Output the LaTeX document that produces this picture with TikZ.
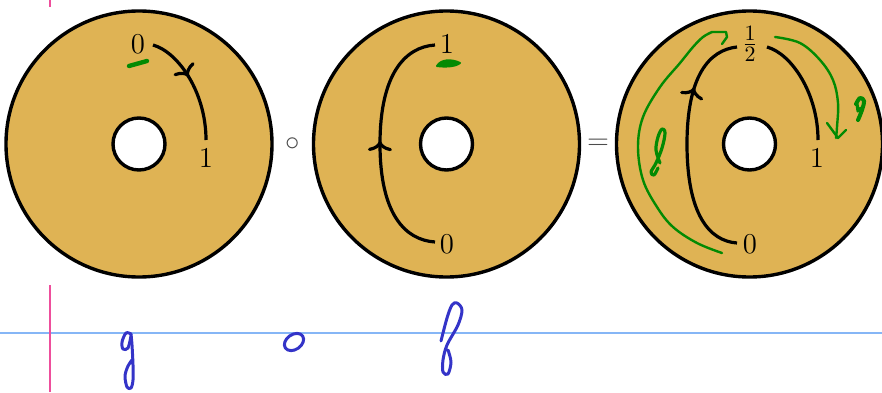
\documentclass[tikz,border=0pt]{standalone}
\usetikzlibrary{decorations.markings,arrows.meta}
\definecolor{gold}{HTML}{DFB354}
\definecolor{inkgreen}{HTML}{038A03}
\definecolor{penblue}{HTML}{3434C8}
\definecolor{ruleblue}{HTML}{86B6F6}
\definecolor{rulepink}{HTML}{EE4E9C}
\begin{document}
\begin{tikzpicture}[x=0.5pt,y=0.5pt,
  ringline/.style={draw=black, line width=1.7pt},
  curvearc/.style={draw=black, line width=1.6pt},
  lbl/.style={font=\fontsize{15}{18}\selectfont, inner sep=0pt},
  opsym/.style={font=\fontsize{15}{18}\selectfont, inner sep=0pt, text=black!70},
  midarrow/.style={postaction={decorate}, decoration={markings, mark=at position #1 with {\arrow{Computer Modern Rightarrow[length=5pt,width=12pt]}}}},
  ink/.style={draw=inkgreen, line width=1.2pt, line cap=round, line join=round},
  pen/.style={draw=penblue, line width=1.5pt, line cap=round, line join=round}]
\useasboundingbox (0,0) rectangle (882,392);
% ruled paper lines
\draw[ruleblue, line width=0.8pt] (0,59) -- (882,59);
\draw[rulepink, line width=1pt] (50,0) -- (50,107);
\draw[rulepink, line width=1pt] (50,385) -- (50,392);
% centres
\coordinate (c1) at (139,248);
\coordinate (c2) at (446.5,248);
\coordinate (c3) at (749.5,248);
% annuli
\foreach \c in {c1,c2,c3}{
  \fill[gold, even odd rule] (\c) circle[radius=133] (\c) circle[radius=26];
  \draw[ringline] (\c) circle[radius=133];
  \draw[ringline] (\c) circle[radius=26];
}
% operators
\node[opsym] (op1) at (293,248) {$\circ$};
\node[opsym] (op2) at (598,248) {$=$};
% annulus 1
\node[lbl] (a1z) at (138,348) {$0$};
\node[lbl] (a1o) at (206,234) {$1$};
\coordinate (a1s) at (153,347);
\coordinate (a1e) at (206,252);
\draw[curvearc, midarrow=0.42] (a1s) .. controls (178,340) and (206,300) .. (a1e);
% annulus 2
\node[lbl] (a2o) at (447,348) {$1$};
\node[lbl] (a2z) at (447,148) {$0$};
\coordinate (a2s) at (435,150);
\coordinate (a2m) at (380,248);
\coordinate (a2e) at (435,347);
\draw[curvearc, midarrow=0.51] (a2s) .. controls (405,152) and (380,178) .. (a2m) .. controls (380,318) and (405,345) .. (a2e);
% annulus 3
\node[lbl] (a3h) at (750,348) {$\frac{1}{2}$};
\node[lbl] (a3o) at (817,234) {$1$};
\node[lbl] (a3z) at (750,148) {$0$};
\coordinate (a3s) at (737,149);
\coordinate (a3m) at (687,248);
\coordinate (a3e) at (737,345);
\draw[curvearc, midarrow=0.74] (a3s) .. controls (709,151) and (687,178) .. (a3m) .. controls (687,316) and (709,342) .. (a3e);
\coordinate (a3rs) at (767,345);
\coordinate (a3re) at (818,252);
\draw[curvearc] (a3rs) .. controls (792,338) and (818,298) .. (a3re);
% green annotations
\draw[ink, line width=2.2pt] (129,326) -- (147,331);
\draw[ink, line width=1pt, fill=inkgreen] (437,326) .. controls (441,333) and (452,333) .. (460,329) .. controls (455,325) and (444,325) .. cycle;
\draw[ink] plot[smooth, tension=0.6] coordinates {(722,139) (697,149) (673,165) (657,185) (643,212) (638,245) (643,275) (660,305) (680,329) (693,345) (703,355) (712,360)};
\draw[ink] (712,360) -- (726,360) -- (727,355) -- (722,348);
\draw[ink, line width=1.6pt] plot[smooth, tension=0.6] coordinates {(660,229) (656,242) (658,255) (662,263) (665,259) (662,244) (656,229) (651,220) (654,217) (658,224)};
\draw[ink] plot[smooth, tension=0.6] coordinates {(775,355) (800,349) (820,332) (833,312) (838,289) (837,265) (836,254)};
\draw[ink] (827,269) -- (838,254) -- (846,262);
\draw[ink, line width=2pt] plot[smooth, tension=0.6] coordinates {(856,288) (860,294) (864,291) (862,282) (858,272)};
\draw[ink, line width=1.6pt] (857,288) -- (858,281) -- (861,284);
% blue handwriting
\draw[pen] plot[smooth, tension=0.55] coordinates {(131,58) (126,59) (122,50) (123,43) (128,44) (131,56)};
\draw[pen] plot[smooth, tension=0.55] coordinates {(131,58) (132,47) (133,27) (133,12) (131,4) (127,5) (125,16) (128,26) (132,32)};
\draw[pen] (294,50) ellipse[x radius=10.5, y radius=7.5, rotate=35];
\draw[pen] plot[smooth, tension=0.55] coordinates {(441,51) (447,74) (452,87) (457,89) (462,82) (458,67) (447,47) (443,32) (443,20) (448,18) (451,30) (448,42)};
\end{tikzpicture}
\end{document}
